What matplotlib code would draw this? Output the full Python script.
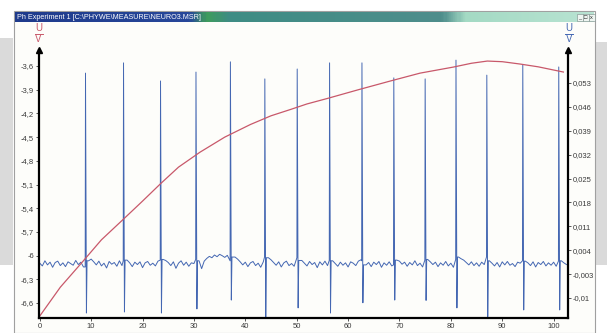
import matplotlib.pyplot as plt
import numpy as np
from matplotlib.colors import LinearSegmentedColormap
from matplotlib.patches import Rectangle
from matplotlib.lines import Line2D

plt.rcParams['font.family'] = ['Liberation Sans', 'DejaVu Sans']

W, H = 607, 333

# =========================
# Data
# =========================
# red trace (left axis, U/V)
red_x = [0, 4, 8.3, 12, 16.1, 20, 23.5, 27, 31.2, 36, 41, 45, 48.8, 52, 56,
         62, 68.2, 74, 80.5, 84, 87.1, 90, 93.5, 97, 101.9]
red_y = [-6.765, -6.40, -6.08, -5.80, -5.55, -5.31, -5.09, -4.88, -4.69, -4.50,
         -4.34, -4.23, -4.15, -4.08, -4.01, -3.90, -3.79, -3.69, -3.613, -3.565,
         -3.537, -3.545, -3.575, -3.61, -3.676]

# blue trace (right axis, U/V): baseline readings every 0.5 (in mV)
base_step = 0.5
base_mv = [
    0.2, -0.6, 0.9, -0.3, 0.5, -1.0, 0.4, 0.8, -0.5, 0.3,
    -0.8, 0.6, 0.1, -0.4, 1.0, -0.2, 0.5, -0.9, 1.2, 0.9,
    1.4, 0.6, -0.3, 0.8, -0.6, 0.2, -1.2, 0.7, -0.1, 0.4,
    -0.7, 0.9, -0.5, 1.6, 1.1, 0.3, -0.8, 0.5, -0.2, 0.6,
    -1.1, 0.3, 0.7, -0.4, 0.2, -0.6, 0.8, -0.3, 1.3, 1.0,
    0.4, -0.5, 0.6, -1.3, 0.2, 0.9, -0.4, 0.5, -0.7, 0.3,
    0.1, -0.6, 0.9, -1.4, 0.8, 1.6, 2.2, 1.8, 2.6, 2.1,
    2.8, 2.4, 1.9, 2.5, 3.1, 2.7, 2.0, 1.4, 0.6, -0.3,
    0.5, -0.8, 0.3, 0.7, -0.5, 0.2, -1.0, 0.6, 1.5, 1.8,
    1.2, 0.4, -0.4, 0.6, -0.9, 0.3, 0.8, -0.5, 0.1, -0.7,
    0.5, 1.4, 1.0, 0.2, -0.6, 0.7, -0.2, 0.4, -1.1, 0.6,
    -0.3, 0.8, -0.5, 1.3, 0.9, 0.1, -0.7, 0.5, -0.4, 0.3,
    -0.9, 0.6, 0.2, -0.5, 0.8, 1.2, 0.7, -0.3, 0.4, -0.8,
    0.5, -0.2, 0.7, -1.0, 0.3, -0.4, 0.6, -0.6, 0.2, 1.1,
    0.8, -0.1, 0.5, -0.7, 0.4, -0.3, 0.9, -0.5, 0.2, -0.9,
    1.0, 1.3, 0.6, -0.2, 0.5, -0.8, 0.3, -0.4, 0.7, -0.6,
    0.2, -1.0, 1.7, 2.0, 1.5, 1.1, 0.4, -0.3, 0.6, -0.5,
    0.3, -0.7, 0.5, -0.2, 1.2, 0.9, 0.2, -0.6, 0.4, -0.9,
    0.6, -0.3, 0.7, -0.4, 0.1, -0.8, 0.5, 0.2, 1.1, 0.8,
    0.3, -0.5, 0.6, -0.9, 0.4, -0.2, 0.7, -0.6, 0.3, -0.4,
    0.5, -0.7, 1.2, 0.9, 0.3, -0.2,
]
# spikes: time, peak and trough (V)
spike_t = [8.9, 16.3, 23.5, 30.4, 37.1, 43.8, 50.1, 56.4, 62.7, 68.9,
           75.0, 81.0, 87.0, 94.0, 101.0]
spike_top = [0.0559, 0.0589, 0.0536, 0.0562, 0.0592, 0.0542, 0.0571, 0.0589,
             0.0589, 0.0545, 0.0542, 0.0597, 0.0553, 0.0583, 0.0577]
spike_bot = [-0.0144, -0.0141, -0.0144, -0.0132, -0.0106, -0.0158, -0.0129,
             -0.0144, -0.0114, -0.0106, -0.0107, -0.0129, -0.0155, -0.0135,
             -0.0135]

x_ticks = [0, 10, 20, 30, 40, 50, 60, 70, 80, 90, 100]
left_ticks = [-3.6, -3.9, -4.2, -4.5, -4.8, -5.1, -5.4, -5.7, -6.0, -6.3, -6.6]
left_labels = ['-3,6', '-3,9', '-4,2', '-4,5', '-4,8', '-5,1', '-5,4', '-5,7',
               '-6', '-6,3', '-6,6']
right_ticks = [0.053, 0.046, 0.039, 0.032, 0.025, 0.018, 0.011, 0.004,
               -0.003, -0.01]
right_labels = ['0,053', '0,046', '0,039', '0,032', '0,025', '0,018', '0,011',
                '0,004', '-0,003', '-0,01']

title_text = 'Ph Experiment 1 [C:\\PHYWE\\MEASURE\\NEURO3.MSR]'

RED = '#c8586a'
BLUE = '#4467b2'


def fx(x):
    return x / W


def fy(y):
    return 1 - y / H


# =========================
# Build blue trace
# =========================
base_x = [i * base_step for i in range(len(base_mv))]
pts = []
for xx, v in zip(base_x, base_mv):
    if min(abs(xx - (t + 0.1)) for t in spike_t) < 0.3:
        continue
    pts.append((xx, v / 1000.0))
for t, top, bot in zip(spike_t, spike_top, spike_bot):
    # neighbouring baseline readings, so the spike stands straight up
    prev_v = [v for xx, v in pts if xx < t][-1]
    next_v = [v for xx, v in pts if xx > t + 0.2][0]
    pts.append((t - 0.06, prev_v))
    pts.append((t, top))
    pts.append((t + 0.18, bot))
    pts.append((t + 0.3, next_v))
pts.sort()
blue_x = [p[0] for p in pts]
blue_y = [p[1] for p in pts]

# =========================
# Figure + window chrome
# =========================
fig = plt.figure(figsize=(W / 100, H / 100), dpi=100)
fig.patch.set_facecolor('white')

# desktop bits behind the window
fig.add_artist(Rectangle((fx(0), fy(265)), fx(13), 227 / H, zorder=-10,
                         transform=fig.transFigure, color='#dadada', lw=0))
fig.add_artist(Rectangle((fx(596), fy(265)), fx(11), 223 / H, zorder=-10,
                         transform=fig.transFigure, color='#dadada', lw=0))
# window body and frame
fig.add_artist(Rectangle((fx(14), 0), fx(581), fy(11), zorder=-9,
                         transform=fig.transFigure, facecolor='#fdfdfa',
                         edgecolor='#a0a0a0', lw=0.8))

# title bar gradient
cmap = LinearSegmentedColormap.from_list('tb', [
    (0.0, '#1f3b8c'), (0.30, '#27479a'), (0.33, '#3f9d5c'),
    (0.37, '#3e8c84'), (0.74, '#4f8e8c'), (0.78, '#a4dac4'),
    (1.0, '#b8e3d2')])
tax = fig.add_axes([fx(15), fy(22), fx(579), 10 / H])
tax.imshow(np.linspace(0, 1, 300).reshape(1, -1), cmap=cmap, aspect='auto')
tax.axis('off')
fig.text(fx(17), fy(17.2), title_text, color='white', fontsize=5.2,
         va='center', ha='left')
for i, sym in enumerate(['_', '□', 'x']):
    bx = 577 + i * 6
    fig.add_artist(Rectangle((fx(bx), fy(21)), fx(5.5), 7 / H,
                             transform=fig.transFigure, facecolor='#eef5f1',
                             edgecolor='#7a8a88', lw=0.4))
    fig.text(fx(bx + 2.75), fy(17.5), sym, fontsize=4, ha='center',
             va='center', color='#222')

# U/V unit labels
for xpos, col in [(38.5, RED), (569, BLUE)]:
    fig.text(fx(xpos), fy(28), 'U', color=col, fontsize=7, ha='center',
             va='center')
    fig.text(fx(xpos), fy(39), 'V', color=col, fontsize=7, ha='center',
             va='center')
    fig.add_artist(Line2D([fx(xpos - 4), fx(xpos + 4)], [fy(33.5), fy(33.5)],
                          transform=fig.transFigure, color=col, lw=0.7))

# =========================
# Plot axes
# =========================
ax = fig.add_axes([fx(39), fy(318), fx(568 - 39), (318 - 50) / H])
ax2 = ax.twinx()
ax.set_zorder(ax2.get_zorder() + 1)
ax.patch.set_visible(False)
ax2.patch.set_facecolor('white')

ax2.plot(blue_x, blue_y, color=BLUE, lw=0.7)
ax.plot(red_x, red_y, color=RED, lw=0.9)

ax.set_xlim(-0.15, 102.8)
ax.set_ylim(-6.79, -3.397)
ax2.set_ylim(-0.01586, 0.06267)

ax.set_xticks(x_ticks)
ax.set_xticklabels([str(v) for v in x_ticks])
ax.set_yticks(left_ticks)
ax.set_yticklabels(left_labels)
ax2.set_yticks(right_ticks)
ax2.set_yticklabels(right_labels)

for a in (ax, ax2):
    a.tick_params(direction='out', length=2.5, width=0.6, pad=1,
                  labelsize=5.5, labelcolor='#3a3a3a', colors='#3a3a3a')
    a.spines['top'].set_visible(False)
ax.spines['right'].set_visible(False)
ax2.spines['left'].set_visible(False)
ax2.spines['bottom'].set_visible(False)
for s in ['left', 'bottom']:
    ax.spines[s].set_linewidth(1.6)
ax2.spines['right'].set_linewidth(1.6)

# arrow heads on the vertical axes
for xa in (0, 1):
    ax.plot([xa], [1.0], marker='^', markersize=4, color='black',
            transform=ax.transAxes, clip_on=False)

fig.savefig('out.png', dpi=100)
